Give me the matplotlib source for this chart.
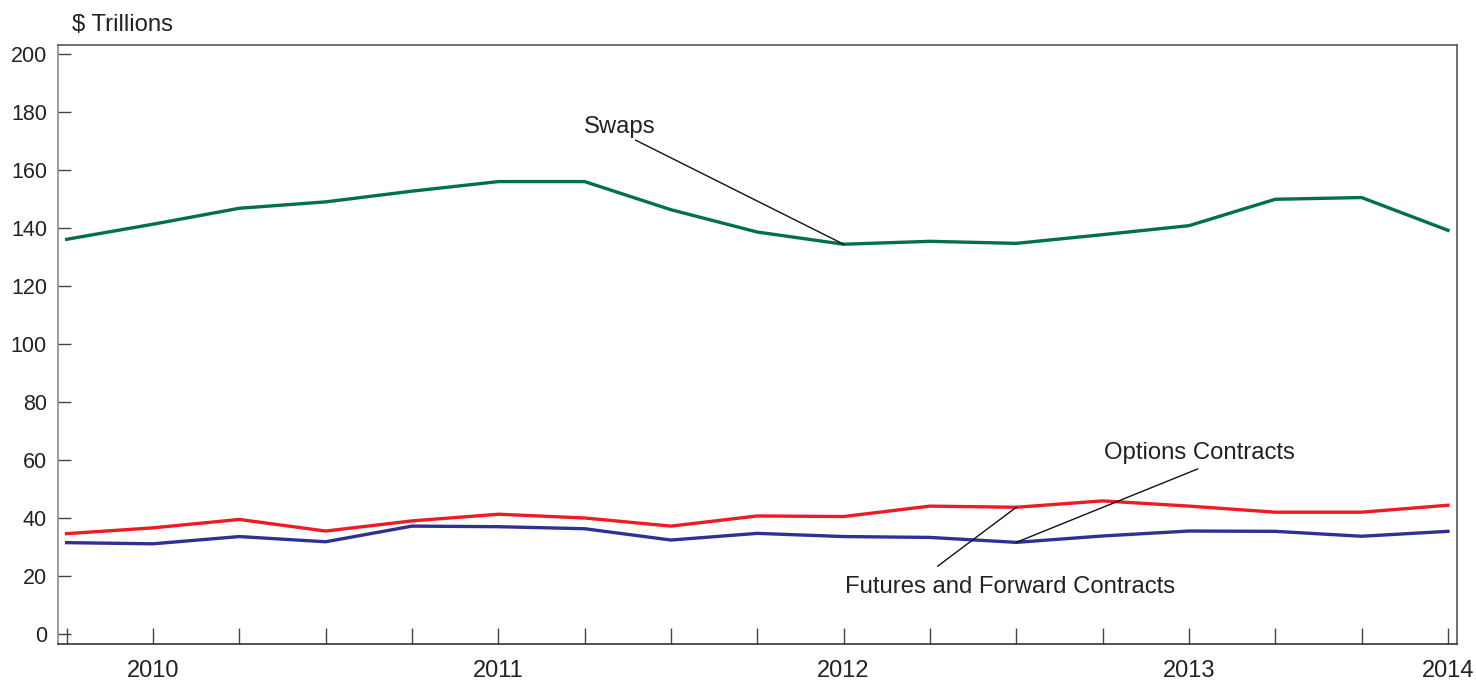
import matplotlib
matplotlib.use("Agg")
import matplotlib.pyplot as plt

plt.rcParams['font.family'] = ['Liberation Sans', 'DejaVu Sans']

# Quarterly observations, 2009:Q4 .. 2014:Q4 (17 quarters)
quarters = list(range(17))
swaps = [136.1, 141.3, 146.8, 149.0, 152.7, 156.0, 156.0, 146.3, 138.6, 134.4,
         135.4, 134.7, 137.7, 140.8, 149.9, 150.5, 139.2]
options = [34.6, 36.6, 39.5, 35.5, 39.0, 41.3, 40.0, 37.2, 40.7, 40.5,
           44.1, 43.7, 45.9, 44.1, 42.0, 42.0, 44.4]
futures = [31.5, 31.1, 33.6, 31.8, 37.2, 37.0, 36.3, 32.4, 34.7, 33.6,
           33.3, 31.6, 33.8, 35.5, 35.4, 33.7, 35.4]
year_labels = ['', '2010', '', '', '', '2011', '', '', '', '2012', '', '', '', '2013', '', '', '2014']
y_ticks = [0, 20, 40, 60, 80, 100, 120, 140, 160, 180, 200]

fig = plt.figure(figsize=(14.76, 6.81), dpi=100)
ax = fig.add_axes([58/1476, 37/681, (1457-58)/1476, (644-45)/681])

lw = 2.4
ax.plot(quarters, swaps, color='#00704a', lw=lw, solid_joinstyle='miter')
ax.plot(quarters, options, color='#ed1c24', lw=lw, solid_joinstyle='miter')
ax.plot(quarters, futures, color='#2e3192', lw=lw, solid_joinstyle='miter')

ax.set_xlim(-0.10, 16.105)
ax.set_ylim(-3.45, 203.1)

ax.set_yticks(y_ticks)
ax.set_xticks(quarters)
ax.set_xticklabels(year_labels)

for s in ['left', 'bottom', 'top', 'right']:
    ax.spines[s].set_linewidth(1.2)
ax.spines['left'].set_color('#8a8a8a')
ax.spines['bottom'].set_color('#333333')
ax.spines['top'].set_color('#555555')
ax.spines['right'].set_color('#555555')

ax.tick_params(axis='y', direction='in', length=9.5, width=1.0, color='#444444',
               labelsize=15.5, pad=8, labelcolor='#222222')
ax.tick_params(axis='x', direction='in', length=11.5, width=1.0, color='#444444',
               labelsize=17, pad=11.5, labelcolor='#222222')

fs = 17.2
fig.text(72/1476, 1 - 25/681, '$ Trillions', fontsize=fs, ha='left', va='center', color='#222222')

# Annotations
ax.text(6.41, 174.8, 'Swaps', fontsize=fs, ha='center', va='center', color='#222222')
ax.plot([6.59, quarters[9]], [170.3, swaps[9]], color='#111111', lw=1.0)

ax.text(13.12, 62.4, 'Options Contracts', fontsize=fs, ha='center', va='center', color='#222222')
ax.plot([13.10, quarters[11]], [56.9, futures[11]], color='#111111', lw=1.0)

ax.text(10.93, 16.2, 'Futures and Forward Contracts', fontsize=fs, ha='center', va='center', color='#222222')
ax.plot([10.09, quarters[11]], [23.4, options[11]], color='#111111', lw=1.0)

fig.savefig('out.png', dpi=100)
